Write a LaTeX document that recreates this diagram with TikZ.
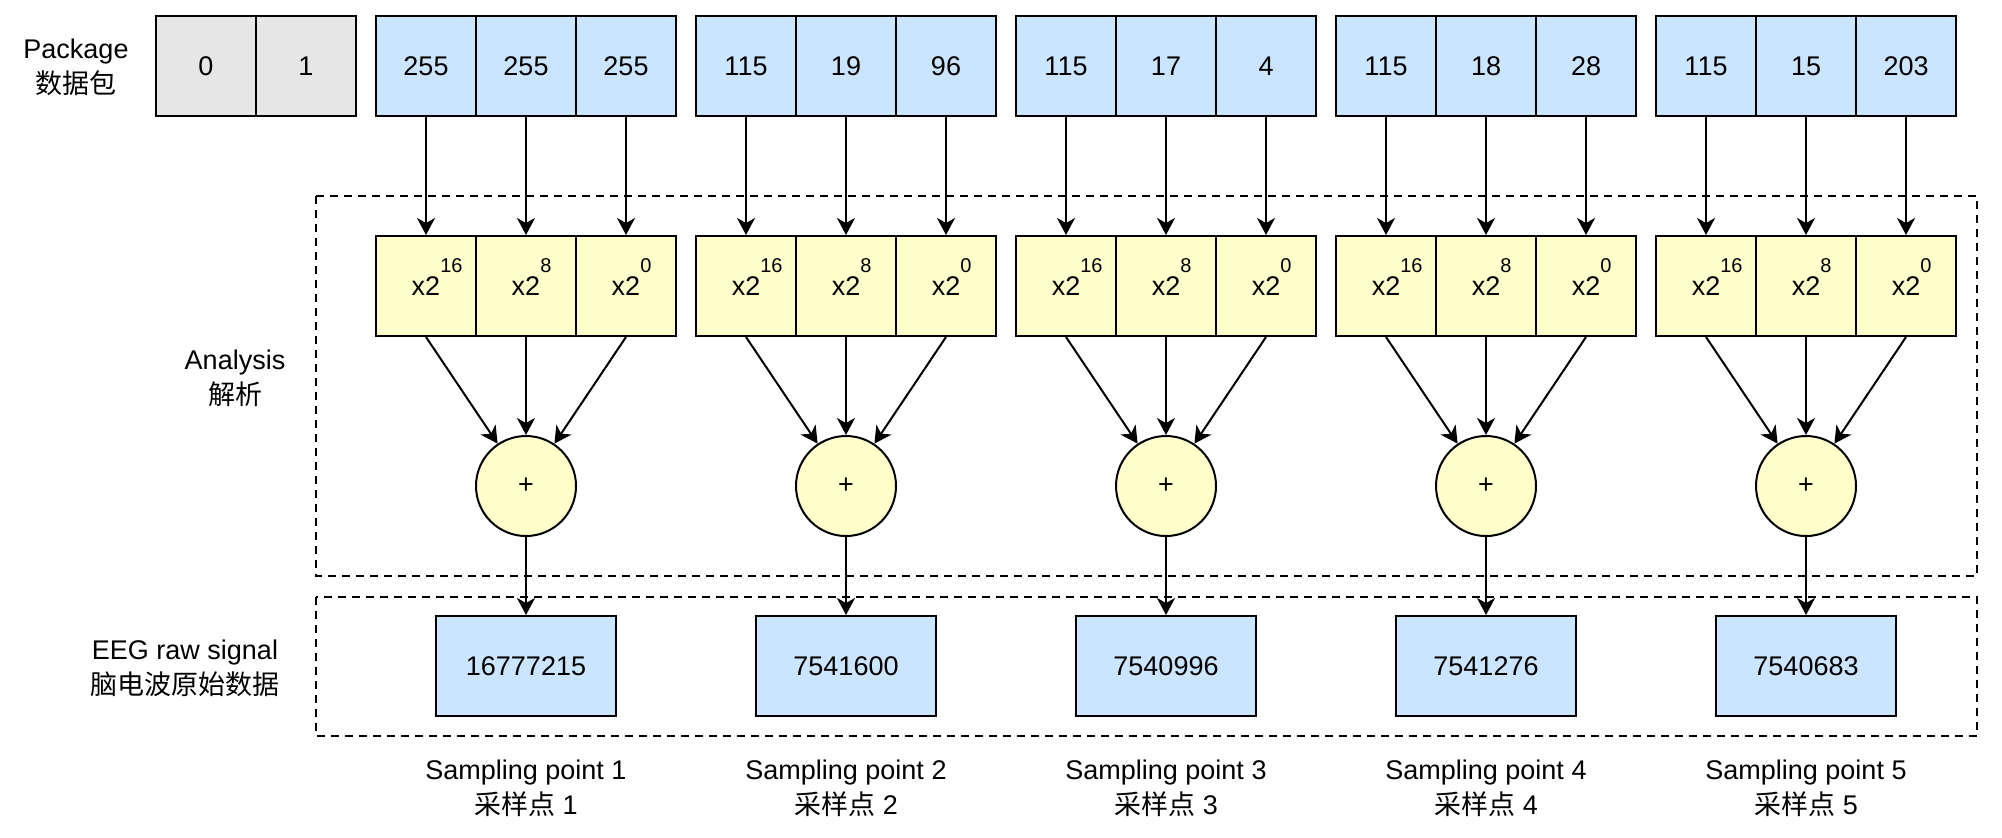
\documentclass[tikz,border=0pt]{standalone}
\usepackage{fontspec}
\setmainfont{Liberation Sans}
\newfontfamily\cjk{Noto Sans CJK SC}
\usetikzlibrary{arrows.meta}
\definecolor{hdrfill}{HTML}{E6E6E6}
\definecolor{bytefill}{HTML}{CCE5FF}
\definecolor{multfill}{HTML}{FFFFCC}
\newcommand\pw[1]{x2\rlap{\raisebox{11.5pt}[0pt][0pt]{\fontsize{10}{12}\selectfont #1}}}
\tikzset{
  cell/.style={draw, line width=1pt, minimum width=50pt, minimum height=50pt, inner sep=0pt, font=\fontsize{13.5}{16}\selectfont},
  hdr/.style={cell, fill=hdrfill},
  byte/.style={cell, fill=bytefill},
  mult/.style={cell, fill=multfill},
  sumnode/.style={circle, draw, line width=1pt, fill=multfill, minimum size=50pt, inner sep=0pt, font=\fontsize{13.5}{16}\selectfont},
  rawbox/.style={cell, fill=bytefill, minimum width=90pt},
  lbl/.style={align=center, font=\fontsize{13.5}{17.5}\selectfont},
  frame/.style={draw, line width=1pt, dash pattern=on 4pt off 3pt},
  conn/.style={line width=1pt, -{Stealth[length=8.5pt,width=9pt,inset=2.5pt]}}
}
\begin{document}
\begin{tikzpicture}[x=0.5pt, y=-0.5pt]
      \useasboundingbox (0,0) rectangle (2002,837);
      %
      \draw[frame] (316,196) rectangle (1977,576);
      \draw[frame] (316,597) rectangle (1977,736);
      %
      \node[lbl] (lpkg) at (76,67) {Package\\{\cjk 数据包}};
      \node[lbl] (lana) at (235,378) {Analysis\\{\cjk 解析}};
      \node[lbl] (lraw) at (185,668) {EEG raw signal\\{\cjk 脑电波原始数据}};
      %
      \node[hdr] (h0) at (206,66) {0};
      \node[hdr] (h1) at (306,66) {1};
      %
      \foreach \i/\a/\b/\c/\v in {1/255/255/255/16777215, 2/115/19/96/7541600,
          3/115/17/4/7540996, 4/115/18/28/7541276, 5/115/15/203/7540683}{
        \pgfmathsetmacro\gx{106+320*\i}
        \node[byte] (b\i1) at (\gx,66) {\a};
        \node[byte] (b\i2) at (\gx+100,66) {\b};
        \node[byte] (b\i3) at (\gx+200,66) {\c};
        \node[mult] (m\i1) at (\gx,286) {\pw{16}};
        \node[mult] (m\i2) at (\gx+100,286) {\pw{8}};
        \node[mult] (m\i3) at (\gx+200,286) {\pw{0}};
        \node[sumnode] (s\i) at (\gx+100,486) {+};
        \node[rawbox] (r\i) at (\gx+100,666) {\v};
        \node[lbl] (p\i) at (\gx+100,788) {Sampling point \i\\{\cjk 采样点} \i};
        %
        \foreach \k in {1,2,3}{
          \draw[conn] (b\i\k) -- (m\i\k);
          \draw[conn] (m\i\k.south) -- (s\i);
        }
        \draw[conn] (s\i) -- (r\i);
      }
      %
    \end{tikzpicture}
\end{document}
